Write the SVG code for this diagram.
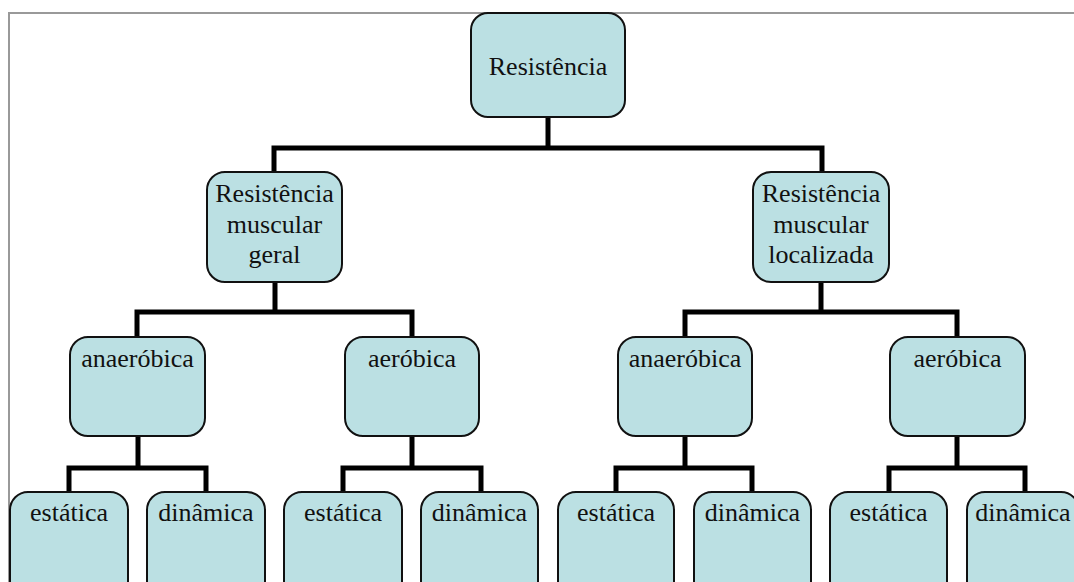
<svg xmlns="http://www.w3.org/2000/svg" width="1074" height="582" viewBox="0 0 1074 582">
  <style>
    .box { fill: #bbe0e3; stroke: #111; stroke-width: 2; }
    .lbl { font-family: "Liberation Serif", "Times New Roman", serif; font-size: 26px; fill: #111; text-anchor: middle; }
    .conn { fill: none; stroke: #000; stroke-width: 5; stroke-linecap: square; stroke-linejoin: miter; }
  </style>
  <rect x="0" y="0" width="1074" height="582" fill="#fff"/>
  <!-- frame -->
  <path d="M9 582 V13 H1074" fill="none" stroke="#999" stroke-width="2"/>

  <!-- connectors -->
  <g id="connectors" class="conn">
    <path d="M548 117 V148 M274 172 V148 H822 V172"/>
    <path d="M275 282 V312 M137 337 V312 H412 V337"/>
    <path d="M821 282 V312 M685 337 V312 H957 V337"/>
    <path d="M138 436 V468 M69 492 V468 H206 V492"/>
    <path d="M412 436 V468 M343 492 V468 H481 V492"/>
    <path d="M685 436 V468 M616 492 V468 H752 V492"/>
    <path d="M957 436 V468 M889 492 V468 H1025 V492"/>
  </g>

  <!-- level 1 -->
  <g id="n-resistencia">
    <rect class="box" x="471" y="13" width="154" height="104" rx="17"/>
    <text class="lbl" x="548" y="75">Resistência</text>
  </g>

  <!-- level 2 -->
  <g id="n-geral">
    <rect class="box" x="207" y="172" width="135" height="110" rx="18"/>
    <text class="lbl" x="274.5" y="202">Resistência</text>
    <text class="lbl" x="274.5" y="233">muscular</text>
    <text class="lbl" x="274.5" y="263">geral</text>
  </g>
  <g id="n-localizada">
    <rect class="box" x="753" y="172" width="136" height="110" rx="18"/>
    <text class="lbl" x="821" y="202">Resistência</text>
    <text class="lbl" x="821" y="233">muscular</text>
    <text class="lbl" x="821" y="263">localizada</text>
  </g>

  <!-- level 3 -->
  <g id="n-geral-anaerobica">
    <rect class="box" x="70" y="337" width="135" height="99" rx="18"/>
    <text class="lbl" x="137.5" y="367">anaeróbica</text>
  </g>
  <g id="n-geral-aerobica">
    <rect class="box" x="345" y="337" width="134" height="99" rx="18"/>
    <text class="lbl" x="412" y="367">aeróbica</text>
  </g>
  <g id="n-localizada-anaerobica">
    <rect class="box" x="618" y="337" width="134" height="99" rx="18"/>
    <text class="lbl" x="685" y="367">anaeróbica</text>
  </g>
  <g id="n-localizada-aerobica">
    <rect class="box" x="890" y="337" width="135" height="99" rx="18"/>
    <text class="lbl" x="957.5" y="367">aeróbica</text>
  </g>

  <!-- level 4 -->
  <g id="n-ga-estatica">
    <rect class="box" x="10" y="492" width="118" height="110" rx="18"/>
    <text class="lbl" x="69" y="521">estática</text>
  </g>
  <g id="n-ga-dinamica">
    <rect class="box" x="147" y="492" width="118" height="110" rx="18"/>
    <text class="lbl" x="206" y="521">dinâmica</text>
  </g>
  <g id="n-gae-estatica">
    <rect class="box" x="284" y="492" width="118" height="110" rx="18"/>
    <text class="lbl" x="343" y="521">estática</text>
  </g>
  <g id="n-gae-dinamica">
    <rect class="box" x="421" y="492" width="117" height="110" rx="18"/>
    <text class="lbl" x="479.5" y="521">dinâmica</text>
  </g>
  <g id="n-la-estatica">
    <rect class="box" x="558" y="492" width="116" height="110" rx="18"/>
    <text class="lbl" x="616" y="521">estática</text>
  </g>
  <g id="n-la-dinamica">
    <rect class="box" x="694" y="492" width="117" height="110" rx="18"/>
    <text class="lbl" x="752.5" y="521">dinâmica</text>
  </g>
  <g id="n-lae-estatica">
    <rect class="box" x="830" y="492" width="117" height="110" rx="18"/>
    <text class="lbl" x="888.5" y="521">estática</text>
  </g>
  <g id="n-lae-dinamica">
    <rect class="box" x="967" y="492" width="112" height="110" rx="18"/>
    <text class="lbl" x="1023" y="521">dinâmica</text>
  </g>
</svg>
